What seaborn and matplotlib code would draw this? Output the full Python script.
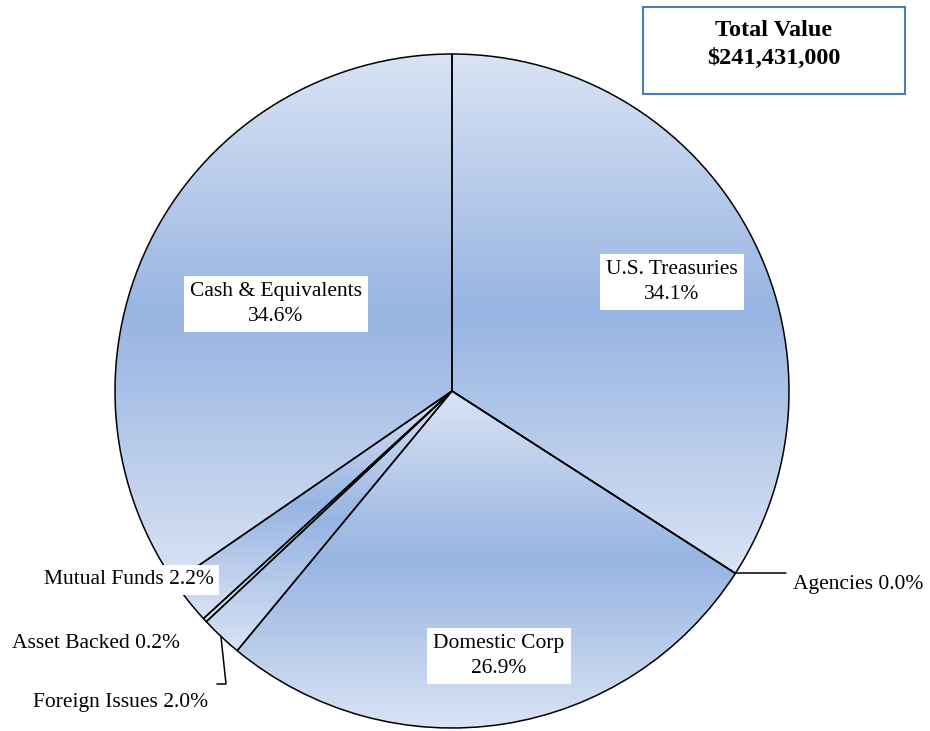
import numpy as np
import matplotlib
matplotlib.use("Agg")
import matplotlib.pyplot as plt
import seaborn as sns
from matplotlib.patches import Rectangle

# ---- data ----
categories = ["U.S. Treasuries", "Agencies", "Domestic Corp", "Foreign Issues",
              "Asset Backed", "Mutual Funds", "Cash & Equivalents"]
percentages = [34.1, 0.0, 26.9, 2.0, 0.2, 2.2, 34.6]
title_lines = ["Total Value", "$241,431,000"]

sns.set_theme(style="white")
plt.rcParams["font.family"] = ["Liberation Serif", "DejaVu Serif"]
plt.rcParams["text.color"] = "black"

W, H = 930, 731
fig = plt.figure(figsize=(W / 100, H / 100), dpi=100)
ax = fig.add_axes([0, 0, 1, 1])

CX, CY, R = 452, 391, 337


def P(px, py):
    return ((px - CX) / R, (CY - py) / R)


wedges, _ = ax.pie(percentages, startangle=90, counterclock=False, radius=1,
                   center=(0, 0), frame=False,
                   wedgeprops=dict(facecolor="none", edgecolor="black",
                                   linewidth=1.1, zorder=2))

cmap = sns.blend_palette(["#d9e3f4", "#97b4e2", "#d9e3f4"], n_colors=256, as_cmap=True)
grad = np.linspace(0, 1, 256)[:, None]
for w in wedges:
    if abs(w.theta2 - w.theta1) < 1e-6:
        continue
    th = np.radians(np.linspace(w.theta1, w.theta2, 400))
    xs = np.concatenate([[0], np.cos(th)])
    ys = np.concatenate([[0], np.sin(th)])
    im = ax.imshow(grad, extent=(xs.min(), xs.max(), ys.min(), ys.max()),
                   origin="lower", cmap=cmap, aspect="auto", zorder=1,
                   interpolation="bilinear")
    im.set_clip_path(w)

ax.set_aspect("auto")
ax.set_xlim(-CX / R, (W - CX) / R)
ax.set_ylim((CY - H) / R, CY / R)
ax.axis("off")

fs = 15.5
box = dict(boxstyle="square,pad=0.3", facecolor="white", edgecolor="none")


def lab(i, sep):
    return f"{categories[i]}{sep}{percentages[i]:.1f}%"


# big labels inside slices
for i, (px, py) in zip([0, 2, 6], [(672, 282), (499, 656), (276, 304)]):
    ax.text(*P(px, py), lab(i, "\n"), ha="center", va="center", fontsize=fs,
            bbox=box, zorder=5, linespacing=1.4, color="black")

# outside labels
ax.plot(*zip(P(735, 573), P(786, 573)), color="black", lw=1.1, zorder=3)
ax.text(*P(793, 584), lab(1, " "), ha="left", va="center", fontsize=fs, zorder=5,
        color="black")

ax.text(*P(214, 580), lab(5, " "), ha="right", va="center", fontsize=fs, zorder=5,
        color="black",
        bbox=dict(boxstyle="square,pad=0.25", facecolor="white", edgecolor="none"))
ax.text(*P(180, 644), lab(4, " "), ha="right", va="center", fontsize=fs, zorder=5,
        color="black")

ax.plot(*zip(P(221, 637), P(226, 684), P(217, 684)), color="black", lw=1.1, zorder=3)
ax.text(*P(208, 702), lab(3, " "), ha="right", va="center", fontsize=fs, zorder=5,
        color="black")

# total value box
fig.add_artist(Rectangle((643 / W, 1 - 94 / H), 262 / W, 87 / H,
                         transform=fig.transFigure, fill=False,
                         edgecolor="#4a7ebb", lw=1.5))
fig.text(774 / W, 1 - 31 / H, title_lines[0], ha="center", va="center",
         fontsize=17.5, fontweight="bold", color="black")
fig.text(774 / W, 1 - 58 / H, title_lines[1], ha="center", va="center",
         fontsize=17.5, fontweight="bold", color="black")

fig.savefig("out.png", dpi=100, facecolor="white")
